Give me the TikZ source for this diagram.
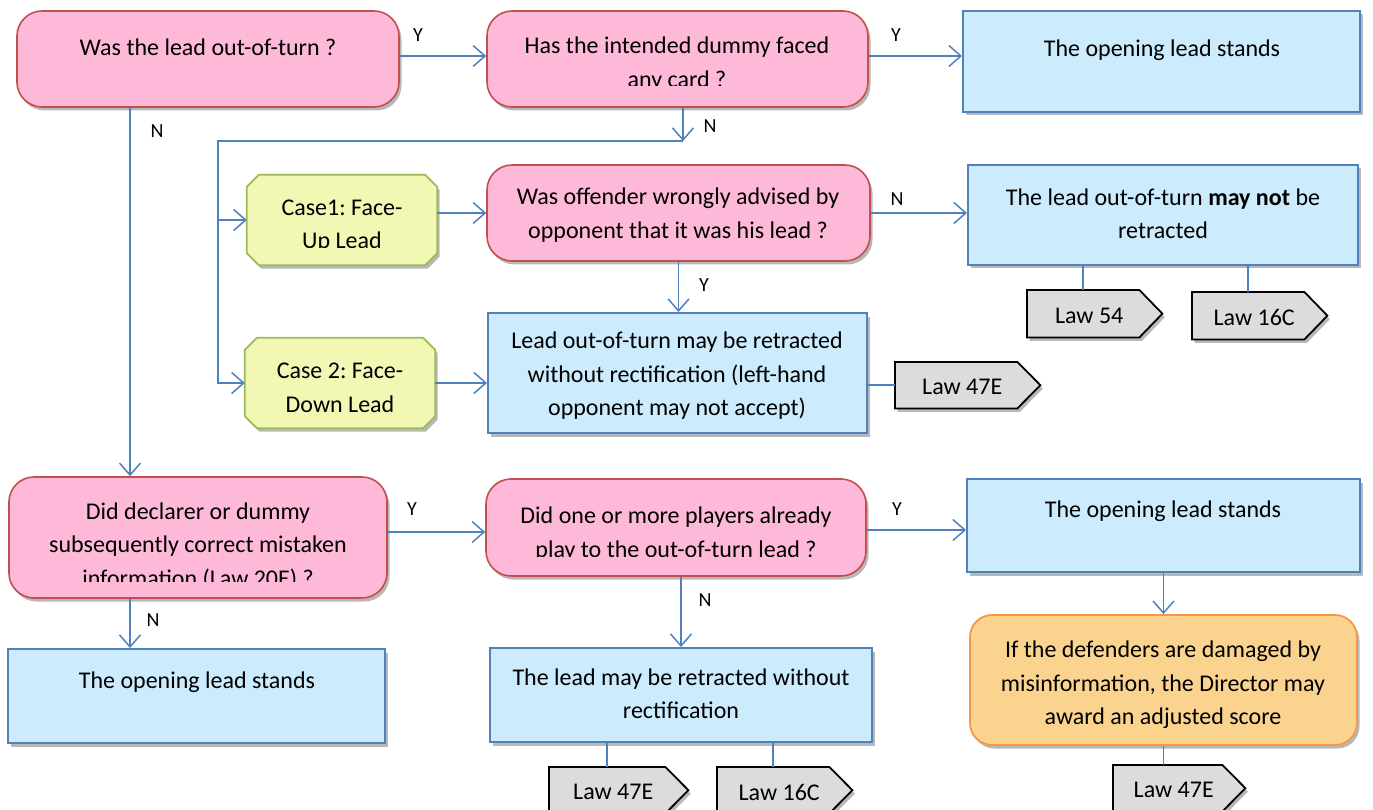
\documentclass[tikz,border=0pt]{standalone}
\usepackage{fontspec}
\setmainfont{Carlito}
\frenchspacing
\usetikzlibrary{arrows.meta,shadows}
\definecolor{pinkf}{RGB}{253,185,215}
\definecolor{pinkd}{RGB}{192,80,77}
\definecolor{bluef}{RGB}{204,235,253}
\definecolor{blued}{RGB}{79,129,189}
\definecolor{yelf}{RGB}{242,248,180}
\definecolor{yeld}{RGB}{155,187,89}
\definecolor{oraf}{RGB}{250,212,143}
\definecolor{orad}{RGB}{247,150,70}
\definecolor{tagf}{RGB}{220,220,220}
\begin{document}
\begin{tikzpicture}[x=1pt,y=-1pt,
  shad/.style={drop shadow={shadow xshift=2.5pt,shadow yshift=-3.5pt,opacity=0.28,fill=black}},
  boxbase/.style={inner sep=0pt,shad},
  qbox/.style={boxbase,rounded corners=25pt,fill=pinkf,draw=pinkd,line width=1.6pt},
  rbox/.style={boxbase,fill=bluef,draw=blued,line width=2pt},
  obox/.style={boxbase,rounded corners=22pt,fill=oraf,draw=orad,line width=1.8pt},
  cshape/.style={shad,fill=yelf,draw=yeld,line width=1.8pt,line join=miter},
  tshape/.style={shad,fill=tagf,draw=black,line width=1.8pt,line join=miter},
  ghost/.style={inner sep=0pt,draw=none},
  txt/.style={align=center,inner sep=0pt,font=\fontsize{24}{33.5}\selectfont\frenchspacing},
  lbl/.style={inner sep=0pt,font=\fontsize{20}{22}\selectfont},
  ln/.style={draw=blued,line width=1.5pt},
  arr/.style={ln,-{Straight Barb[length=12pt,width=21pt,line width=1.5pt]}}]
\useasboundingbox (0,0) rectangle (1373,810);

% ---------- boxes ----------
\node[qbox,minimum width=382,minimum height=96] (Q1) at (208,59) {};
\node[qbox,minimum width=381,minimum height=96] (Q2) at (677.5,59) {};
\node[rbox,minimum width=397,minimum height=101] (R1) at (1161.5,61.5) {};
\node[qbox,minimum width=383,minimum height=96] (Q4) at (678.5,213) {};
\node[rbox,minimum width=390,minimum height=100] (R2) at (1163,215) {};
\node[rbox,minimum width=379,minimum height=120] (R3) at (677.5,373) {};
\node[qbox,minimum width=378,minimum height=121] (Q3) at (198,537.5) {};
\node[qbox,minimum width=380,minimum height=97] (Q5) at (676,527.5) {};
\node[rbox,minimum width=393,minimum height=93] (R4) at (1163.5,525.5) {};
\node[obox,minimum width=387,minimum height=130] (O1) at (1163.5,680) {};
\node[rbox,minimum width=377,minimum height=94] (R5) at (196.5,696) {};
\node[rbox,minimum width=382,minimum height=94] (R6) at (681,695) {};

% case boxes (snipped corners)
\node[ghost,minimum width=190,minimum height=90] (C1) at (342,220) {};
\path[cshape] ([xshift=12pt]C1.north west) -- ([xshift=-12pt]C1.north east) -- ([yshift=-12pt]C1.north east)
  -- ([yshift=12pt]C1.south east) -- ([xshift=-12pt]C1.south east) -- ([xshift=12pt]C1.south west)
  -- ([yshift=12pt]C1.south west) -- ([yshift=-12pt]C1.north west) -- cycle;
\node[ghost,minimum width=190,minimum height=90] (C2) at (340,383) {};
\path[cshape] ([xshift=12pt]C2.north west) -- ([xshift=-12pt]C2.north east) -- ([yshift=-12pt]C2.north east)
  -- ([yshift=12pt]C2.south east) -- ([xshift=-12pt]C2.south east) -- ([xshift=12pt]C2.south west)
  -- ([yshift=12pt]C2.south west) -- ([yshift=-12pt]C2.north west) -- cycle;

% law tags
\newcommand\lawtag[6]{% name, x, y, body width, height, text
  \node[ghost,anchor=north west,minimum width=#4,minimum height=#5] (#1) at (#2,#3) {};
  \path[tshape] (#1.north west) -- (#1.north east) -- ([xshift=23pt]#1.east) -- (#1.south east) -- (#1.south west) -- cycle;
  \node[txt] (#1t) at ([xshift=6pt,yshift=-2pt]#1.center) {#6};}
\lawtag{L54}{1027}{290}{112}{47}{Law 54}
\lawtag{L16a}{1192}{292}{112}{47}{Law 16C}
\lawtag{L47a}{895}{362}{122}{46}{Law 47E}
\lawtag{L47b}{549}{767}{116}{46}{Law 47E}
\lawtag{L16b}{717}{767}{112}{46}{Law 16C}
\lawtag{L47c}{1113}{765}{109}{46}{Law 47E}

% ---------- texts ----------
\node[txt] (Q1t) at (208,47) {Was the lead out-of-turn ?};
\begin{scope}
  \clip (487,0) rectangle (868,86);
  \node[txt] (Q2t) at (677,64) {Has the intended dummy faced\\any card ?};
\end{scope}
\node[txt] (R1t) at (1162,50) {The opening lead stands};
\begin{scope}
  \clip (240,170) rectangle (440,248);
  \node[txt] (C1t) at (342,226) {Case1: Face-\\Up Lead};
\end{scope}
\node[txt] (C2t) at (340,388) {Case 2: Face-\\Down Lead};
\node[txt] (Q4t) at (678,215) {Was offender wrongly advised by\\opponent that it was his lead ?};
\node[txt] (R2t) at (1163,214) {The lead out-of-turn \textbf{may not} be\\retracted};
\node[txt] (R3t) at (677,376) {Lead out-of-turn may be retracted\\without rectification (left-hand\\opponent may not accept)};
\begin{scope}
  \clip (9,477) rectangle (387,581);
  \node[txt] (Q3t) at (198,546) {Did declarer or dummy\\subsequently correct mistaken\\information (Law 20E) ?};
\end{scope}
\begin{scope}
  \clip (486,479) rectangle (866,556);
  \node[txt] (Q5t) at (676,534) {Did one or more players already\\play to the out-of-turn lead ?};
\end{scope}
\node[txt] (R4t) at (1163,511) {The opening lead stands};
\node[txt] (O1t) at (1163,685) {If the defenders are damaged by\\misinformation, the Director may\\award an adjusted score};
\node[txt] (R5t) at (197,682) {The opening lead stands};
\node[txt] (R6t) at (681,694) {The lead may be retracted without\\rectification};

% ---------- connectors ----------
\coordinate (xn1) at (130,0);
\coordinate (yq1) at (0,56);
\coordinate (jn) at (683,141);
\coordinate (jl) at (218,141);
\coordinate (yq3) at (0,532);
\coordinate (yq5) at (0,530);

\draw[arr] (Q1.east |- yq1) -- (Q2.west |- yq1);
\draw[arr] (Q2.east |- yq1) -- (R1.west |- yq1);
\draw[arr] (Q1.south -| xn1) -- (Q3.north -| xn1);
\draw[arr] (Q2.south -| jn) -- (jn);
\draw[arr] (jn) -- (jl) -- (jl |- C2.west) -- (C2.west);
\draw[arr] (jl |- C1.west) -- (C1.west);
\draw[arr] (C1.east |- Q4.west) -- (Q4.west);
\draw[arr] (Q4.east) -- (Q4.east -| R2.west);
\draw[ln] (R2.south -| L54.north) -- (L54.north);
\draw[ln] (R2.south -| L16a.north) -- (L16a.north);
\draw[arr] (Q4.south) -- (Q4.south |- R3.north);
\draw[arr] (C2.east) -- (C2.east -| R3.west);
\draw[ln] (R3.east |- L47a.west) -- (L47a.west);
\draw[arr] (Q3.east |- yq3) -- (Q5.west |- yq3);
\draw[arr] (Q5.east |- yq5) -- (R4.west |- yq5);
\draw[arr] (R4.south) -- (O1.north);
\draw[ln] (O1.south) -- (L47c.north -| O1.south);
\draw[arr] (Q3.south -| xn1) -- (R5.north -| xn1);
\draw[arr] (Q5.south -| R6.north) -- (R6.north);
\draw[ln] (R6.south -| L47b.north) -- (L47b.north);
\draw[ln] (R6.south -| L16b.north) -- (L16b.north);

% ---------- labels ----------
\node[lbl] (lY1) at (418,35) {Y};
\node[lbl] (lY2) at (896,35) {Y};
\node[lbl] (lN1) at (157,131) {N};
\node[lbl] (lN2) at (710,126) {N};
\node[lbl] (lN3) at (897,199) {N};
\node[lbl] (lY3) at (704,285) {Y};
\node[lbl] (lY4) at (412,509) {Y};
\node[lbl] (lY5) at (897,509) {Y};
\node[lbl] (lN4) at (153,620) {N};
\node[lbl] (lN5) at (705,600) {N};
\end{tikzpicture}
\end{document}
